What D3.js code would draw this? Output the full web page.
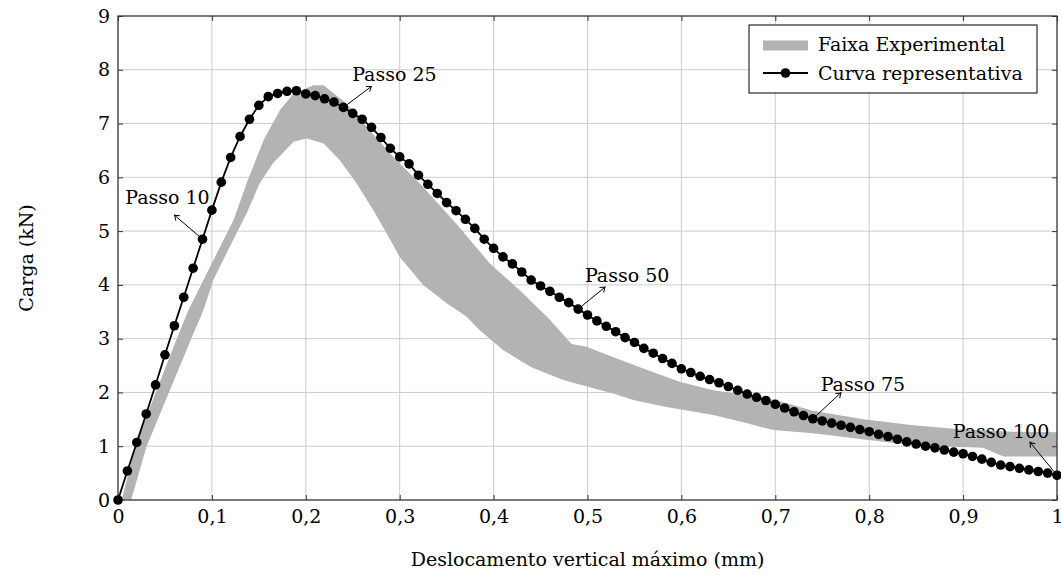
<!DOCTYPE html>
<html lang="pt">
<head>
<meta charset="utf-8">
<script src="https://d3js.org/d3.v7.min.js"></script>
<style>
  body { margin: 0; background: #fff; }
  svg text { font-family: "DejaVu Serif", "Liberation Serif", serif; fill: #000; }
</style>
</head>
<body>
<div id="chart"></div>
<script>
// tick labels
const xTicks = [0, 0.1, 0.2, 0.3, 0.4, 0.5, 0.6, 0.7, 0.8, 0.9, 1];
const yTicks = [0, 1, 2, 3, 4, 5, 6, 7, 8, 9];

// curva representativa: carga (kN) em cada passo, deslocamento = passo * 0,01 mm
const curveY = [
  0, 0.54, 1.07, 1.60, 2.14, 2.70, 3.24, 3.77, 4.31, 4.85,
  5.39, 5.91, 6.37, 6.76, 7.08, 7.34, 7.50, 7.56, 7.60, 7.61,
  7.55, 7.52, 7.46, 7.40, 7.30, 7.19, 7.08, 6.93, 6.74, 6.54,
  6.38, 6.25, 6.04, 5.87, 5.70, 5.53, 5.38, 5.22, 5.05, 4.85,
  4.68, 4.52, 4.39, 4.24, 4.09, 3.98, 3.88, 3.77, 3.67, 3.55,
  3.44, 3.33, 3.23, 3.13, 3.02, 2.93, 2.82, 2.73, 2.63, 2.54,
  2.44, 2.37, 2.30, 2.24, 2.18, 2.11, 2.04, 1.97, 1.91, 1.85,
  1.78, 1.71, 1.64, 1.57, 1.51, 1.47, 1.43, 1.39, 1.35, 1.31,
  1.27, 1.22, 1.18, 1.13, 1.08, 1.04, 1.00, 0.97, 0.93, 0.89,
  0.86, 0.81, 0.76, 0.70, 0.65, 0.62, 0.59, 0.56, 0.53, 0.50,
  0.46
];
const curve = curveY.map((v, i) => ({x: i / 100, y: v}));

// faixa experimental: limite superior e inferior [deslocamento, carga]
const bandUpper = [
  [0.004, 0], [0.018, 1.0], [0.0625, 3.0], [0.075, 3.53], [0.1015, 4.46],
  [0.123, 5.20], [0.137, 5.89], [0.155, 6.69], [0.1725, 7.25], [0.187, 7.56],
  [0.208, 7.71], [0.219, 7.71], [0.2435, 7.37], [0.265, 6.94], [0.29, 6.44],
  [0.325, 5.82], [0.36, 5.14], [0.396, 4.40], [0.4315, 3.84], [0.46, 3.35],
  [0.483, 2.90], [0.499, 2.85], [0.527, 2.66], [0.563, 2.42], [0.598, 2.20],
  [0.634, 2.04], [0.669, 1.95], [0.70, 1.86], [0.74, 1.66], [0.794, 1.50],
  [0.847, 1.39], [0.90, 1.31], [0.953, 1.27], [1.0, 1.26]
];
const bandLower = [
  [0.014, 0], [0.0305, 1.0], [0.078, 3.0], [0.091, 3.53], [0.1015, 4.09],
  [0.119, 4.71], [0.137, 5.33], [0.151, 5.89], [0.165, 6.26], [0.187, 6.66],
  [0.201, 6.72], [0.219, 6.63], [0.236, 6.32], [0.254, 5.89], [0.272, 5.39],
  [0.286, 4.96], [0.30, 4.52], [0.325, 4.00], [0.35, 3.66], [0.371, 3.41],
  [0.385, 3.16], [0.41, 2.79], [0.439, 2.48], [0.474, 2.23], [0.527, 1.98],
  [0.549, 1.86], [0.584, 1.73], [0.634, 1.58], [0.669, 1.43], [0.698, 1.30],
  [0.74, 1.24], [0.797, 1.12], [0.847, 1.02], [0.921, 0.97], [0.943, 0.81],
  [1.0, 0.81]
];

// anotacoes
const pinSteps = [9, 24, 49, 74, 100];
const pinLabels = ["Passo 10", "Passo 25", "Passo 50", "Passo 75", "Passo 100"];

const legendLabels = ["Faixa Experimental", "Curva representativa"];

const W = 1061, H = 574;
const mLeft = 118, mRight = 1057, mTop = 16, mBottom = 500;
const fs = 19;

const svg = d3.select("#chart").append("svg")
  .attr("width", W).attr("height", H);

const x = d3.scaleLinear().domain([0, 1]).range([mLeft, mRight]);
const y = d3.scaleLinear().domain([0, 9]).range([mBottom, mTop]);

// grid
svg.append("g").selectAll("line").data(xTicks).enter().append("line")
  .attr("x1", d => x(d)).attr("x2", d => x(d))
  .attr("y1", mTop).attr("y2", mBottom)
  .attr("stroke", "#cccccc").attr("stroke-width", 1);
svg.append("g").selectAll("line").data(yTicks).enter().append("line")
  .attr("x1", mLeft).attr("x2", mRight)
  .attr("y1", d => y(d)).attr("y2", d => y(d))
  .attr("stroke", "#cccccc").attr("stroke-width", 1);

// faixa
const bandPts = bandUpper.concat(bandLower.slice().reverse());
svg.append("path")
  .attr("d", d3.line().x(d => x(d[0])).y(d => y(d[1])).curve(d3.curveLinearClosed)(bandPts))
  .attr("fill", "#b3b3b3").attr("stroke", "none");

// axes
const fmt = d => String(d).replace(".", ",");
const gx = svg.append("g").attr("transform", `translate(0,${mBottom})`)
  .call(d3.axisBottom(x).tickValues(xTicks).tickFormat(fmt).tickSize(-5).tickPadding(10));
const gxt = svg.append("g").attr("transform", `translate(0,${mTop})`)
  .call(d3.axisTop(x).tickValues(xTicks).tickFormat("").tickSize(-5));
const gy = svg.append("g").attr("transform", `translate(${mLeft},0)`)
  .call(d3.axisLeft(y).tickValues(yTicks).tickFormat(fmt).tickSize(-5).tickPadding(8));
const gyr = svg.append("g").attr("transform", `translate(${mRight},0)`)
  .call(d3.axisRight(y).tickValues(yTicks).tickFormat("").tickSize(-5));
[gx, gxt, gy, gyr].forEach(g => {
  g.select(".domain").remove();
  g.attr("color", "#333").attr("font-family", null).attr("font-size", fs);
  g.selectAll("line").attr("stroke-width", 1);
});

svg.append("rect")
  .attr("x", mLeft).attr("y", mTop)
  .attr("width", mRight - mLeft).attr("height", mBottom - mTop)
  .attr("fill", "none").attr("stroke", "#333").attr("stroke-width", 1.2);

// curva
svg.append("path").datum(curve)
  .attr("fill", "none").attr("stroke", "#000").attr("stroke-width", 1.8)
  .attr("d", d3.line().x(d => x(d.x)).y(d => y(d.y)));
svg.append("g").selectAll("circle").data(curve).enter().append("circle")
  .attr("cx", d => x(d.x)).attr("cy", d => y(d.y)).attr("r", 4.8)
  .attr("fill", "#000");

// pins
svg.append("defs").append("marker")
  .attr("id", "arrow").attr("viewBox", "-6 -5 8 10")
  .attr("refX", 0).attr("refY", 0)
  .attr("markerWidth", 8).attr("markerHeight", 10)
  .attr("markerUnits", "userSpaceOnUse").attr("orient", "auto")
  .append("path").attr("d", "M-4.5,-3.2 Q-1.5,-0.8 0,0 Q-1.5,0.8 -4.5,3.2")
  .attr("fill", "none").attr("stroke", "#000").attr("stroke-width", 1);

const pinArrow = [[-28, -24], [28, -21], [27, -22], [28, -26], [-27, -33]];
const pinText = [[-35, -35], [51, -26], [49, -27], [50, -28], [-56, -37]];
pinSteps.forEach((s, k) => {
  const px = x(curve[s].x), py = y(curve[s].y);
  const [ax, ay] = pinArrow[k];
  const len = Math.hypot(ax, ay);
  svg.append("line")
    .attr("x1", px + ax / len * 4.5).attr("y1", py + ay / len * 4.5)
    .attr("x2", px + ax).attr("y2", py + ay)
    .attr("stroke", "#000").attr("stroke-width", 1)
    .attr("marker-end", "url(#arrow)");
  svg.append("text")
    .attr("x", px + pinText[k][0]).attr("y", py + pinText[k][1])
    .attr("text-anchor", "middle").attr("font-size", fs)
    .text(pinLabels[k]);
});

// titulos
svg.append("text")
  .attr("x", (mLeft + mRight) / 2).attr("y", 566)
  .attr("text-anchor", "middle").attr("font-size", fs)
  .text("Deslocamento vertical máximo (mm)");
svg.append("text")
  .attr("transform", `translate(33,${(mTop + mBottom) / 2}) rotate(-90)`)
  .attr("text-anchor", "middle").attr("font-size", fs)
  .text("Carga (kN)");

// legenda
const lg = svg.append("g");
lg.append("rect").attr("x", 749).attr("y", 25).attr("width", 288).attr("height", 68)
  .attr("fill", "#fff").attr("stroke", "#000").attr("stroke-width", 1);
lg.append("rect").attr("x", 763).attr("y", 40.5).attr("width", 45).attr("height", 10)
  .attr("fill", "#b3b3b3");
lg.append("line").attr("x1", 763).attr("x2", 808).attr("y1", 73).attr("y2", 73)
  .attr("stroke", "#000").attr("stroke-width", 1.8);
lg.append("circle").attr("cx", 785.5).attr("cy", 73).attr("r", 4.8).attr("fill", "#000");
lg.selectAll("text.l").data(legendLabels).enter().append("text")
  .attr("class", "l")
  .attr("x", 818).attr("y", (d, i) => 51 + i * 28.5)
  .attr("font-size", fs).text(d => d);
</script>
</body>
</html>
